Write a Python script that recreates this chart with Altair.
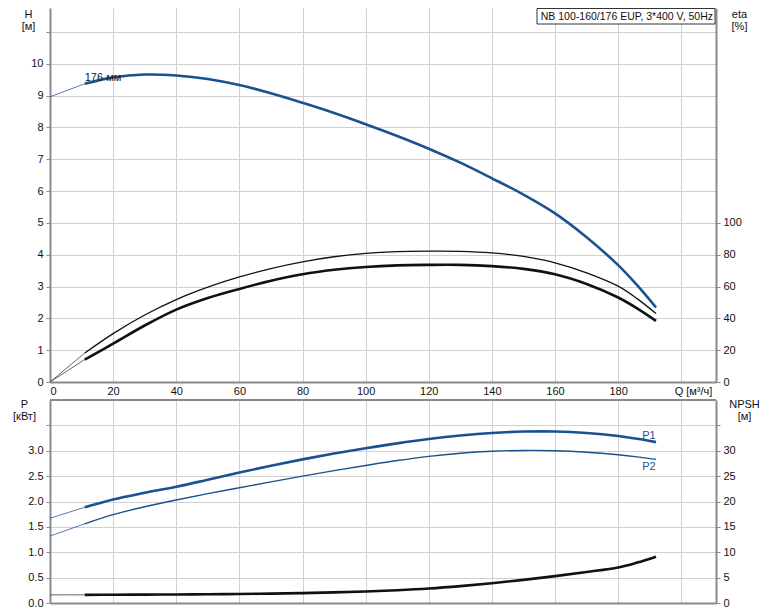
import altair as alt
import pandas as pd

# ---- data ----
Q = [0, 11, 20, 30, 40, 50, 60, 70, 80, 90, 100, 110, 120, 130, 140, 150, 160, 170, 180, 186, 192]
H = [8.96, 9.37, 9.57, 9.66, 9.63, 9.52, 9.33, 9.07, 8.77, 8.45, 8.10, 7.73, 7.33, 6.89, 6.40, 5.89, 5.30, 4.55, 3.67, 3.04, 2.34]
ETA_PUMP = [0, 18.2, 30.4, 42.1, 51.8, 59.6, 66.0, 71.3, 75.5, 78.7, 80.8, 81.9, 82.2, 82.1, 81.1, 78.9, 74.9, 68.6, 60.2, 52.4, 43.0]
ETA_TOTAL = [0, 14.1, 24.1, 35.5, 45.5, 52.8, 58.5, 63.6, 67.7, 70.5, 72.3, 73.3, 73.6, 73.6, 72.8, 71.1, 67.7, 61.6, 53.1, 46.3, 38.4]
P1 = [1.67, 1.886, 2.04, 2.171, 2.29, 2.429, 2.57, 2.704, 2.83, 2.945, 3.05, 3.146, 3.23, 3.299, 3.35, 3.378, 3.38, 3.35, 3.29, 3.236, 3.17]
P2 = [1.32, 1.56, 1.74, 1.896, 2.03, 2.154, 2.27, 2.387, 2.50, 2.608, 2.71, 2.807, 2.89, 2.951, 2.99, 3.006, 3.00, 2.971, 2.92, 2.879, 2.83]
NPSH = [1.60, 1.61, 1.63, 1.65, 1.68, 1.72, 1.77, 1.85, 1.95, 2.09, 2.28, 2.52, 2.85, 3.32, 3.90, 4.56, 5.30, 6.11, 7.00, 7.96, 9.13]

Q_SPLIT = 11
X_TICKS = [0, 20, 40, 60, 80, 100, 120, 140, 160, 180, 200]
H_TICKS = [0, 1, 2, 3, 4, 5, 6, 7, 8, 9, 10, 11]
ETA_TICKS = [0, 20, 40, 60, 80, 100]
P_TICKS = [0, 0.5, 1.0, 1.5, 2.0, 2.5, 3.0, 3.5]
NPSH_TICKS = [0, 5, 10, 15, 20, 25, 30, 35]

CURVE_LABEL = ["176 мм"]
CURVE_LABEL_POS = ([11], [9.56])
P_LABELS = ["P1", "P2"]
P_LABEL_POS = ([187.6, 187.6], [3.30, 2.67])
INFO_TEXT = "NB 100-160/176 EUP, 3*400 V, 50Hz"

df = pd.DataFrame({"Q": Q, "H": H, "eta_p": ETA_PUMP, "eta_t": ETA_TOTAL,
                   "P1": P1, "P2": P2, "NPSH": NPSH})
thin = df[df["Q"] <= Q_SPLIT]
thick = df[df["Q"] >= Q_SPLIT]

BLUE = "#1a5190"
BLACK = "#111111"
AXIS = "#8a8a8a"
GRID = "#d0d0d0"
W, H_TOP, H_BOT = 666, 374, 203
XMAX = 211
CURVE = "catmull-rom"

x_top_axis = alt.Axis(values=X_TICKS, labelExpr="datum.value == 200 ? '' : datum.label",
                      grid=True, ticks=False, domain=True, labelPadding=3,
                      title="Q [м³/ч]", titleX=643, titleY=9, titleAlign="center",
                      titleBaseline="middle", titleAngle=0)
x_bot_axis = alt.Axis(values=X_TICKS, labels=False, grid=True, ticks=False, domain=True, title=None)

def xenc(axis):
    return alt.X("Q:Q", scale=alt.Scale(domain=[0, XMAX], nice=False, zero=False), axis=axis)

h_axis = alt.Axis(values=H_TICKS, labelExpr="datum.value > 10.5 ? '' : datum.label",
                  grid=True, title=["H", "[м]"], titleAngle=0, titleX=-22, titleY=0,
                  titleAlign="center", titleBaseline="top")
h_scale = alt.Scale(domain=[0, 11.75], nice=False)
eta_axis = alt.Axis(values=ETA_TICKS, orient="right", grid=False, title=["eta", "[%]"],
                    titleAngle=0, titleX=23, titleY=0, titleAlign="center", titleBaseline="top")
eta_scale = alt.Scale(domain=[0, 235], nice=False)

# ---- top panel ----
h_thin = alt.Chart(thin).mark_line(color=BLUE, strokeWidth=1, opacity=0.75).encode(
    x=xenc(x_top_axis), y=alt.Y("H:Q", scale=h_scale, axis=h_axis))
h_thick = alt.Chart(thick).mark_line(color=BLUE, strokeWidth=2.6, interpolate=CURVE).encode(
    x=xenc(x_top_axis), y=alt.Y("H:Q", scale=h_scale, axis=h_axis))
lab_df = pd.DataFrame({"Q": CURVE_LABEL_POS[0], "H": CURVE_LABEL_POS[1], "t": CURVE_LABEL})
h_label = alt.Chart(lab_df).mark_text(align="left", baseline="middle", fontSize=11, color="#222222").encode(
    x=xenc(x_top_axis), y=alt.Y("H:Q", scale=h_scale, axis=h_axis), text="t:N")
box = alt.Chart(pd.DataFrame({"t": [INFO_TEXT]})).mark_rect(fill="white", stroke="#333333", strokeWidth=1).encode(
    x=alt.value(487), x2=alt.value(665), y=alt.value(0.5), y2=alt.value(16))
box_text = alt.Chart(pd.DataFrame({"t": [INFO_TEXT]})).mark_text(align="right", baseline="middle", fontSize=10.5, color="#111111").encode(
    x=alt.value(663), y=alt.value(8.5), text="t:N")
left_top = alt.layer(h_thin, h_thick, h_label, box, box_text)

eta_layers = []
for col, w in (("eta_p", 1.3), ("eta_t", 2.6)):
    eta_layers.append(alt.Chart(thin).mark_line(color="#555555", strokeWidth=0.9).encode(
        x=xenc(x_top_axis), y=alt.Y(f"{col}:Q", scale=eta_scale, axis=eta_axis)))
    eta_layers.append(alt.Chart(thick).mark_line(color=BLACK, strokeWidth=w, interpolate=CURVE).encode(
        x=xenc(x_top_axis), y=alt.Y(f"{col}:Q", scale=eta_scale, axis=eta_axis)))
right_top = alt.layer(*eta_layers)

top = alt.layer(left_top, right_top).resolve_scale(y="independent").properties(width=W, height=H_TOP)

# ---- bottom panel ----
p_axis = alt.Axis(values=P_TICKS, labelExpr="datum.value > 3.2 ? '' : format(datum.value, '.1f')",
                  grid=True, title=["P", "[кВт]"], titleAngle=0, titleX=-26, titleY=-2,
                  titleAlign="center", titleBaseline="top")
p_scale = alt.Scale(domain=[0, 4], nice=False)
npsh_axis = alt.Axis(values=NPSH_TICKS, orient="right", grid=False,
                     labelExpr="datum.value > 32 ? '' : datum.label",
                     title=["NPSH", "[м]"], titleAngle=0, titleX=28, titleY=-2,
                     titleAlign="center", titleBaseline="top")
npsh_scale = alt.Scale(domain=[0, 40], nice=False)

p_layers = []
for col, w in (("P1", 2.6), ("P2", 1.4)):
    p_layers.append(alt.Chart(thin).mark_line(color=BLUE, strokeWidth=1, opacity=0.75).encode(
        x=xenc(x_bot_axis), y=alt.Y(f"{col}:Q", scale=p_scale, axis=p_axis)))
    p_layers.append(alt.Chart(thick).mark_line(color=BLUE, strokeWidth=w, interpolate=CURVE).encode(
        x=xenc(x_bot_axis), y=alt.Y(f"{col}:Q", scale=p_scale, axis=p_axis)))
plab_df = pd.DataFrame({"Q": P_LABEL_POS[0], "P": P_LABEL_POS[1], "t": P_LABELS})
p_label = alt.Chart(plab_df).mark_text(align="left", baseline="middle", fontSize=11, color=BLUE).encode(
    x=xenc(x_bot_axis), y=alt.Y("P:Q", scale=p_scale, axis=p_axis), text="t:N")
top_border = alt.Chart(pd.DataFrame({"a": [0]})).mark_rule(color=AXIS, strokeWidth=2).encode(
    x=alt.value(0), x2=alt.value(W), y=alt.value(0))
left_bot = alt.layer(*p_layers, p_label, top_border)

right_bot = alt.layer(
    alt.Chart(thin).mark_line(color="#555555", strokeWidth=0.9).encode(
        x=xenc(x_bot_axis), y=alt.Y("NPSH:Q", scale=npsh_scale, axis=npsh_axis)),
    alt.Chart(thick).mark_line(color=BLACK, strokeWidth=2.6, interpolate=CURVE).encode(
        x=xenc(x_bot_axis), y=alt.Y("NPSH:Q", scale=npsh_scale, axis=npsh_axis)),
)
bottom = alt.layer(left_bot, right_bot).resolve_scale(y="independent").properties(width=W, height=H_BOT)

chart = alt.vconcat(top, bottom, spacing=18, bounds="flush").properties(
    padding={"left": 4, "top": 0, "right": 5, "bottom": 2}
).configure_view(stroke=None).configure_axis(
    labelFont="Liberation Sans", labelFontSize=11, labelColor="#111111",
    titleFont="Liberation Sans", titleFontSize=11, titleFontWeight="normal", titleColor="#111111",
    titleLineHeight=12,
    gridColor=GRID, gridWidth=1, domainColor=AXIS, domainWidth=2,
    tickColor=AXIS, tickSize=4, tickWidth=1, labelPadding=3
).configure_text(font="Liberation Sans")

chart.save("out.html", embed_options={"renderer": "svg", "actions": False})
